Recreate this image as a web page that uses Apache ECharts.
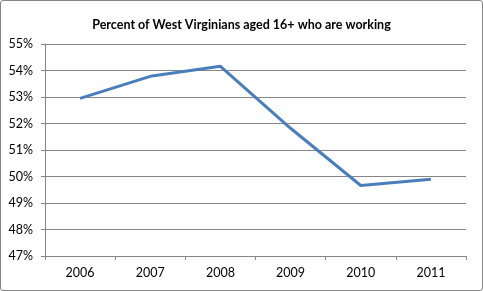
<!DOCTYPE html>
<html><head><meta charset="utf-8">
<script src="https://cdn.jsdelivr.net/npm/echarts@6/dist/echarts.min.js"></script>
<style>
html,body{margin:0;padding:0;background:#fff;}
#c{width:483px;height:291px;box-sizing:border-box;border:1px solid #868686;border-radius:3px;}
</style></head><body>
<div id="c"></div>
<script>
const title = 'Percent of West Virginians aged 16+ who are working';
const years = ['2006','2007','2008','2009','2010','2011'];
const pctWorking = [52.95, 53.78, 54.16, 51.82, 49.66, 49.9];
const yMin = 47, yMax = 55, yStep = 1;

const chart = echarts.init(document.getElementById('c'), null, {renderer:'canvas'});
const font = 'Lato, "Open Sans", "Liberation Sans", sans-serif';
chart.setOption({
  animation:false,
  title:{text:title,left:'center',top:12,textStyle:{fontFamily:font,fontSize:12.5,fontWeight:'bold',color:'#000'}},
  grid:{left:44,right:16,top:43,bottom:34,containLabel:false},
  xAxis:{type:'category',data:years,boundaryGap:true,
    axisLine:{lineStyle:{color:'#868686',width:1}},
    axisTick:{show:true,length:4,inside:false,alignWithLabel:false,lineStyle:{color:'#868686'}},
    axisLabel:{color:'#000',fontFamily:font,fontSize:12.5,margin:10}},
  yAxis:{type:'value',min:yMin,max:yMax,interval:yStep,
    axisLine:{show:true,lineStyle:{color:'#868686',width:1}},
    axisTick:{show:true,length:4,lineStyle:{color:'#868686'}},
    splitLine:{lineStyle:{color:'#868686',width:1}},
    axisLabel:{formatter:'{value}%',color:'#000',fontFamily:font,fontSize:12.5,margin:12}},
  series:[{type:'line',data:pctWorking,showSymbol:false,symbol:'none',
    lineStyle:{color:'#4A7EBB',width:3},itemStyle:{color:'#4A7EBB'}}]
});
</script></body></html>
